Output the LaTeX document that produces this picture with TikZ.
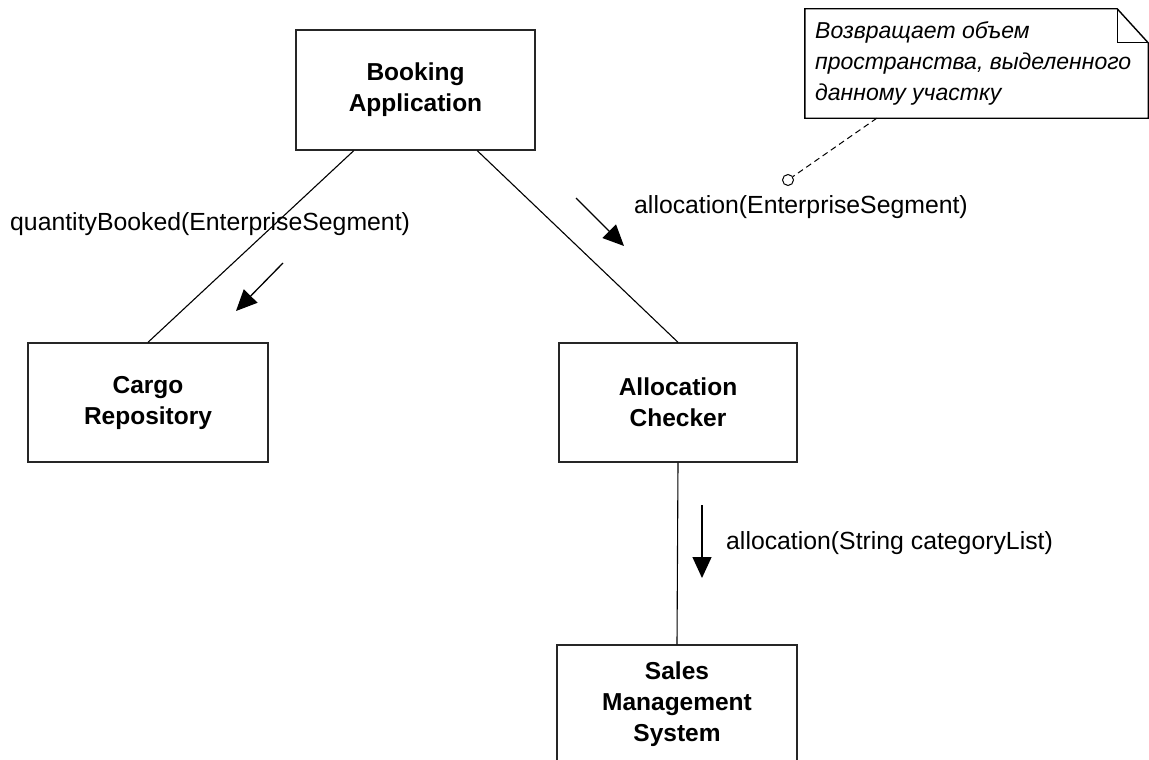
\documentclass[tikz,border=0pt]{standalone}
\usepackage{fontspec}
\setmainfont{Liberation Sans}
\usetikzlibrary{arrows.meta,calc}
\begin{document}
\begin{tikzpicture}[x=1pt,y=-1pt,
  box/.style={draw=black!85,line width=1.4pt,minimum width=240pt,minimum height=119pt,inner sep=0pt,align=center,font=\fontsize{24.5}{31}\selectfont\bfseries},
  link/.style={line width=1.1pt},
  msg/.style={line width=1.3pt,-{Triangle[length=21pt,width=19pt]}},
  lbl/.style={font=\fontsize{24.8}{29}\selectfont,inner sep=0pt,anchor=base west},
  notetext/.style={font=\fontsize{23}{31}\selectfont\itshape,inner sep=0pt,align=left,anchor=base west}]
\clip (0,0) rectangle (1149,760);
\fill[white] (0,0) rectangle (1149,760);

% boxes
\node[box,minimum width=239pt,minimum height=120pt] (booking) at (415.5,90) {Booking\\Application};
\node[box] (cargo) at (148,402.5) {Cargo\\Repository};
\node[box,minimum width=238pt] (alloc) at (678,402.5) {Allocation\\Checker};
\node[box] (sales) at (677,704.5) {Sales\\Management\\System};

% links
\draw[link] ($(booking.south west)!0.243!(booking.south east)$) -- (cargo.north);
\draw[link] ($(booking.south west)!0.757!(booking.south east)$) -- (alloc.north);
\draw[link] (alloc.south) -- (sales.north);

% message arrows
\coordinate (m1s) at (283,263); \coordinate (m1e) at (236,311);
\coordinate (m2s) at (576,198); \coordinate (m2e) at (624,246);
\coordinate (m3s) at (702,505); \coordinate (m3e) at (702,578);
\draw[msg] (m1s) -- (m1e);
\draw[msg] (m2s) -- (m2e);
\draw[msg] (m3s) -- (m3e);

% labels
\node[lbl] (l1) at (10,230) {quantityBooked(EnterpriseSegment)};
\node[lbl] (l2) at (634,213) {allocation(EnterpriseSegment)};
\node[lbl] (l3) at (726,549) {allocation(String categoryList)};

% note
\node[minimum width=343pt,minimum height=109pt,inner sep=0pt] (note) at (976.5,63.5) {};
\draw[line width=1.4pt] (note.north west) -- ($(note.north east)+(-31,0)$) -- ($(note.north east)+(0,34)$) -- (note.south east) -- (note.south west) -- cycle;
\draw[line width=1pt] ($(note.north east)+(-31,0)$) -- ($(note.north east)+(-31,34)$) -- ($(note.north east)+(0,34)$);
\node[notetext] (nt) at (815,100) {Возвращает объем\\пространства, выделенного\\данному участку};
\node[draw,circle,line width=1pt,minimum size=11pt,inner sep=0pt] (anchor) at (788,180) {};
\draw[line width=1pt,dash pattern=on 6pt off 4pt] ($(note.south west)+(72,0)$) -- (anchor);
\end{tikzpicture}
\end{document}
